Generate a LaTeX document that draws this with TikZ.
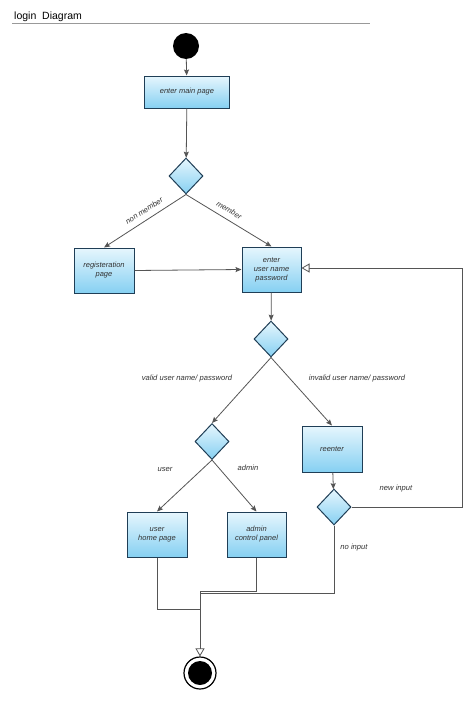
\documentclass[tikz,border=0pt]{standalone}
\usepackage{fontspec}
\setmainfont{Liberation Sans}
\usetikzlibrary{shapes.geometric,arrows.meta}
\definecolor{boxtop}{HTML}{E6F6FD}
\definecolor{boxbot}{HTML}{86D0F2}
\definecolor{boxline}{HTML}{1F3E56}
\definecolor{conn}{HTML}{555555}
\tikzset{
  actbox/.style={draw=boxline,line width=1pt,top color=boxtop,bottom color=boxbot,
    inner sep=1pt,align=center,font=\itshape\fontsize{7.5}{9}\selectfont,text=black!80},
  decision/.style={diamond,draw=boxline,line width=1pt,top color=boxtop,bottom color=boxbot,
    inner sep=0pt,minimum width=34pt,minimum height=36pt},
  flow/.style={draw=conn,line width=0.8pt,-{Stealth[length=6pt,width=5pt,inset=1pt]}},
  plain/.style={draw=conn,line width=0.8pt},
  openarrow/.style={draw=conn,line width=0.8pt,-{Triangle[open,length=8pt,width=9pt,fill=white]}},
  lbl/.style={font=\itshape\fontsize{7.6}{9}\selectfont,text=black!80,inner sep=0pt},
}
\begin{document}
\begin{tikzpicture}[x=1pt,y=-1pt]
\useasboundingbox[fill=white] (0,0) rectangle (474,701);
% title
\node[anchor=base west,font=\fontsize{10.5}{12}\selectfont,inner sep=0pt] (title) at (14,19.5) {login\ \ Diagram};
\coordinate (tl) at (12,24);
\coordinate (tr) at (370,24);
\draw[draw=gray!80,line width=1pt] (tl) -- (tr);
% nodes
\node[circle,fill=black,minimum size=26pt,inner sep=0pt] (start) at (186,46) {};
\node[actbox,minimum width=85pt,minimum height=32pt] (main) at (187,92) {enter main page};
\node[decision] (d1) at (186,176) {};
\node[actbox,minimum width=60pt,minimum height=45pt] (reg) at (104,270.5) {registeration\\page};
\node[actbox,minimum width=59pt,minimum height=45pt] (login) at (271.5,269.5) {enter\\user name\\password};
\node[decision] (d2) at (271,339) {};
\node[decision] (d3) at (212,441.5) {};
\node[actbox,minimum width=60pt,minimum height=46pt] (reenter) at (332,449) {reenter};
\node[decision] (d4) at (334,507) {};
\node[actbox,minimum width=60pt,minimum height=45pt] (uhome) at (157,534.5) {user\\home page};
\node[actbox,minimum width=59pt,minimum height=45pt] (admin) at (256.5,534.5) {admin\\control panel};
\node[circle,draw=black,line width=1.2pt,fill=white,minimum size=32pt,inner sep=0pt] (end) at (200,673) {};
\node[circle,fill=black,minimum size=24pt,inner sep=0pt] (endin) at (200,673) {};
% connectors
\draw[flow] (start) -- (main);
\draw[flow] (main) -- (d1);
\draw[flow] (d1.south) -- node[lbl,sloped,above=6pt,pos=0.45] {non member} (reg.north);
\draw[flow] (d1.south) -- node[lbl,sloped,above=6pt,pos=0.45] {member} (login.north);
\draw[flow] (reg.east) -- (login.west);
\draw[flow] (login) -- (d2);
\draw[flow] (d2.south) -- (d3.north);
\draw[flow] (d2.south) -- (reenter.north);
\draw[flow] (d3.south) -- (uhome.north);
\draw[flow] (d3.south) -- (admin.north);
\draw[flow] (reenter) -- (d4);
\coordinate (rb) at (462,507);
\coordinate (rt) at (462,268);
\draw[openarrow] (d4.east) -- (rb) -- (rt) -- (rt -| login.east);
\coordinate (m1) at (200,609);
\coordinate (m2) at (200,591);
\coordinate (m3) at (200,593);
\draw[plain] (uhome.south) |- (m1);
\draw[plain] (admin.south) |- (m2);
\draw[plain] (d4.south) |- (m3);
\draw[openarrow] (m2) -- (end.north);
% labels
\node[lbl] (lvalid) at (187,379) {valid user name/ password};
\node[lbl] (linvalid) at (357,379) {invalid user name/ password};
\node[lbl] (luser) at (165,469) {user};
\node[lbl] (ladmin) at (248,468) {admin};
\node[lbl] (lnew) at (396,489) {new input};
\node[lbl] (lno) at (354,548) {no input};
\end{tikzpicture}
\end{document}
